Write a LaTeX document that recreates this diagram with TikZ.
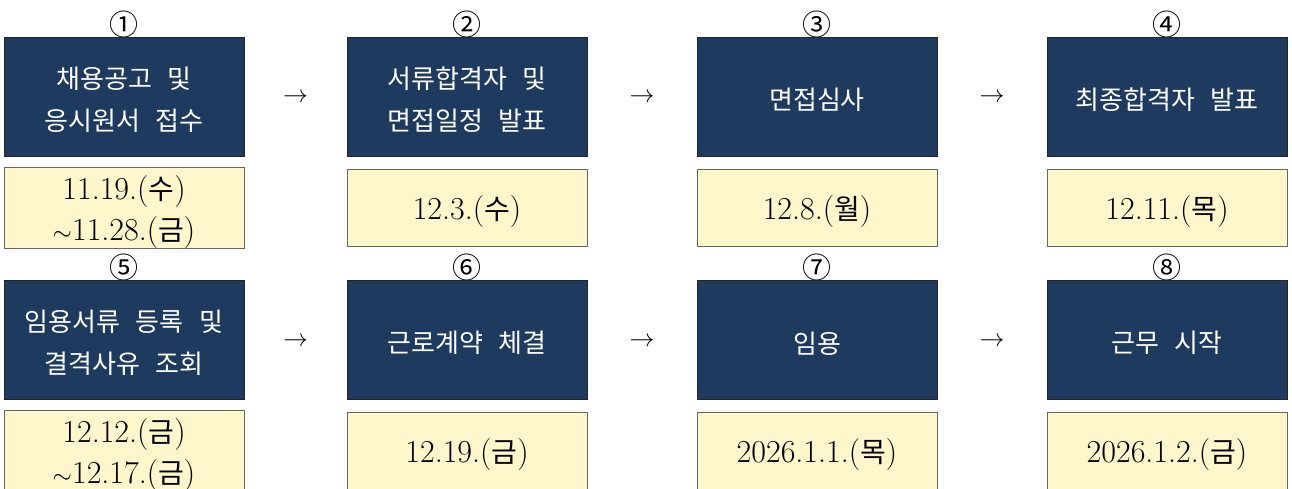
\documentclass[tikz,border=0pt]{standalone}
\usepackage{fontspec}
\newfontfamily\kr{Noto Sans CJK KR}
\definecolor{navy}{RGB}{30,59,95}
\definecolor{cream}{RGB}{255,246,204}
\newcommand{\ksp}{\hspace{0.6em}}
\newcommand{\dk}[1]{{\kr\fontsize{28}{41}\selectfont #1}}
\newcommand{\dstrut}{\rule{0pt}{32pt}}
\newcommand{\kstrut}{\rule{0pt}{28pt}}
\begin{document}
\begin{tikzpicture}[x=1pt,y=-1pt,
 darkbox/.style={draw=black!85, line width=0.8pt, fill=navy, minimum width=240pt, minimum height=119pt, inner sep=0pt, align=center, text=white, font=\kr\fontsize{26}{42}\selectfont},
 datebox/.style={draw=black!60, line width=0.9pt, fill=cream, minimum width=240pt, minimum height=77pt, inner sep=0pt, align=center, font=\fontsize{32}{41}\selectfont},
 numlabel/.style={inner sep=0pt, font=\kr\fontsize{29}{29}\selectfont},
 arrowglyph/.style={inner sep=0pt, font=\fontsize{25}{25}\selectfont}]
\useasboundingbox (0,0) rectangle (1292,488);
% row 1
\node[numlabel] (n1) at (124,24) {①};
\node[numlabel] (n2) at (467,24) {②};
\node[numlabel] (n3) at (817,24) {③};
\node[numlabel] (n4) at (1167,24) {④};
\node[darkbox] (d1) at (124,96.5) {\kstrut 채용공고\ksp 및\\응시원서\ksp 접수};
\node[darkbox] (d2) at (467,96.5) {\kstrut 서류합격자\ksp 및\\면접일정\ksp 발표};
\node[darkbox] (d3) at (817,96.5) {\kstrut 면접심사};
\node[darkbox] (d4) at (1167,96.5) {\kstrut 최종합격자\ksp 발표};
\node[datebox] (y1) at (124,207.5) {\dstrut 11.19.(\dk{수})\\$\sim$11.28.(\dk{금})};
\node[datebox] (y2) at (467,207.5) {\dstrut 12.3.(\dk{수})};
\node[datebox] (y3) at (817,207.5) {\dstrut 12.8.(\dk{월})};
\node[datebox] (y4) at (1167,207.5) {\dstrut 12.11.(\dk{목})};
\node[arrowglyph] (a12) at (295.5,98) {$\rightarrow$};
\node[arrowglyph] (a23) at (642,98) {$\rightarrow$};
\node[arrowglyph] (a34) at (992,98) {$\rightarrow$};
% row 2
\node[numlabel] (n5) at (124,267) {⑤};
\node[numlabel] (n6) at (467,267) {⑥};
\node[numlabel] (n7) at (817,267) {⑦};
\node[numlabel] (n8) at (1167,267) {⑧};
\node[darkbox] (d5) at (124,340) {\kstrut 임용서류\ksp 등록\ksp 및\\결격사유\ksp 조회};
\node[darkbox] (d6) at (467,340) {\kstrut 근로계약\ksp 체결};
\node[darkbox] (d7) at (817,340) {\kstrut 임용};
\node[darkbox] (d8) at (1167,340) {\kstrut 근무\ksp 시작};
\node[datebox] (y5) at (124,450.5) {\dstrut 12.12.(\dk{금})\\$\sim$12.17.(\dk{금})};
\node[datebox] (y6) at (467,450.5) {\dstrut 12.19.(\dk{금})};
\node[datebox] (y7) at (817,450.5) {\dstrut 2026.1.1.(\dk{목})};
\node[datebox] (y8) at (1167,450.5) {\dstrut 2026.1.2.(\dk{금})};
\node[arrowglyph] (a56) at (295.5,342) {$\rightarrow$};
\node[arrowglyph] (a67) at (642,342) {$\rightarrow$};
\node[arrowglyph] (a78) at (992,342) {$\rightarrow$};
\end{tikzpicture}
\end{document}
